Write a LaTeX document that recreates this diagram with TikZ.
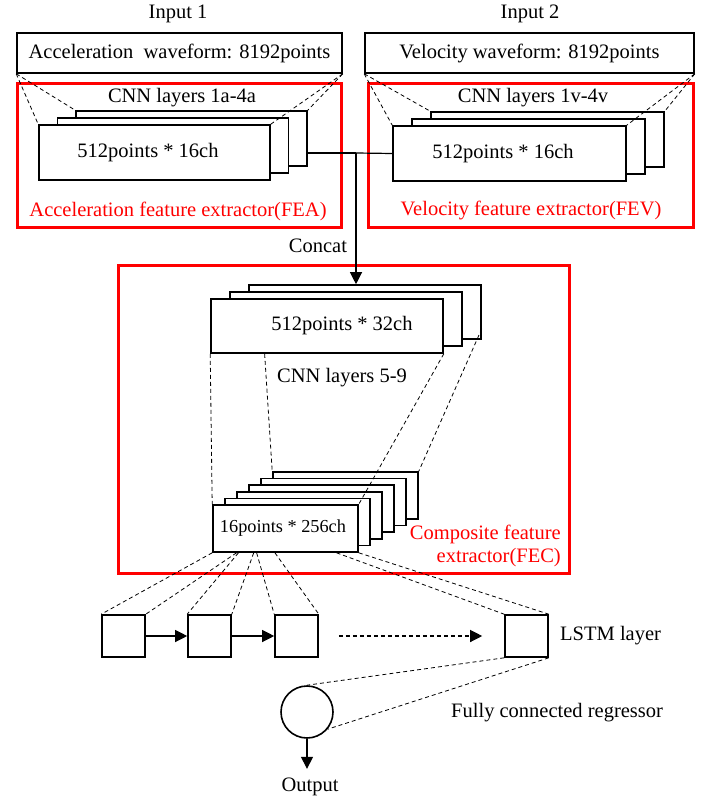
\documentclass[tikz,border=0pt]{standalone}
\usepackage{fontspec}
\setmainfont{Liberation Serif}
\usetikzlibrary{arrows.meta,calc}
\begin{document}
\begin{tikzpicture}[x=1pt,y=-1pt,
  every node/.style={font=\fontsize{20.5}{24}\selectfont, inner sep=0pt},
  blk/.style={draw, line width=1.6pt, fill=white, inner sep=0pt},
  redbox/.style={draw=red, line width=3pt, inner sep=0pt},
  dsh/.style={dash pattern=on 4pt off 3pt, line width=0.8pt},
  conn/.style={line width=1.2pt},
  arr/.style={line width=1.2pt, -{Triangle[length=12pt,width=12pt]}},
  redlbl/.style={text=red}]
\useasboundingbox (0,0) rectangle (704,799);

% red frames
\node[redbox, minimum width=324pt, minimum height=144pt] (fea) at (179,156) {};
\node[redbox, minimum width=325pt, minimum height=144pt] (fev) at (530.5,156) {};
\node[redbox, minimum width=451pt, minimum height=308pt] (fec) at (343.5,419) {};

% inputs
\node (in1) at (178,14) {Input 1};
\node (in2) at (530,14) {Input 2};
\node[blk, minimum width=325pt, minimum height=40pt] (acc) at (179.5,53) {Acceleration\ \ waveform: 8192points};
\node[blk, minimum width=329pt, minimum height=40pt] (vel) at (529.5,53) {Velocity waveform: 8192points};

% FEA stack
\node (cnna) at (182,98) {CNN layers 1a-4a};
\node[blk, minimum width=231pt, minimum height=55pt] (a3) at (191.5,138.5) {};
\node[blk, minimum width=231pt, minimum height=55pt] (a2) at (173,145.5) {};
\node[blk, minimum width=231pt, minimum height=55pt] (a1) at (154.5,152.5) {\hspace*{-13pt}512points * 16ch};
\node[redlbl] (feal) at (178,211) {Acceleration feature extractor(FEA)};

% FEV stack
\node (cnnv) at (533,98) {CNN layers 1v-4v};
\node[blk, minimum width=233pt, minimum height=55pt] (v3) at (547.5,139.5) {};
\node[blk, minimum width=233pt, minimum height=55pt] (v2) at (528.5,146.5) {};
\node[blk, minimum width=233pt, minimum height=55pt] (v1) at (509.5,153.5) {\hspace*{-13pt}512points * 16ch};
\node[redlbl] (fevl) at (531,210) {Velocity feature extractor(FEV)};

% concat
\node (concat) at (318,246) {Concat};

% FEC stacks
\node[blk, minimum width=232pt, minimum height=54pt] (b3) at (365,312) {};
\node[blk, minimum width=232pt, minimum height=54pt] (b2) at (346,319) {};
\node[blk, minimum width=232pt, minimum height=54pt] (b1) at (327,326) {\hspace*{30pt}512points * 32ch};
\node (cnn5) at (342,378) {CNN layers 5-9};

\foreach \i in {5,4,3,2,1} {
  \node[blk, minimum width=145pt, minimum height=47pt] (s\i) at ({285.5+12*\i},{528.5-6.6*\i}) {};
}
\node[blk, minimum width=145pt, minimum height=47pt, font=\fontsize{18.3}{22}\selectfont] (s0) at (285.5,528.5) {\hspace*{-5pt}16points * 256ch};
\node[redlbl, align=right, anchor=east, font=\fontsize{20.5}{23}\selectfont] (fecl) at (561,545.5) {Composite feature\\extractor(FEC)};

% LSTM
\node[blk, minimum width=43pt, minimum height=42pt] (l1) at (123.5,636) {};
\node[blk, minimum width=43pt, minimum height=42pt] (l2) at (209.5,636) {};
\node[blk, minimum width=43pt, minimum height=42pt] (l3) at (296.5,636) {};
\node[blk, minimum width=43pt, minimum height=42pt] (l4) at (526.5,636) {};
\node[anchor=west] (lstml) at (560,636) {LSTM layer};

% regressor
\node[blk, circle, minimum size=52pt] (c) at (307,712) {};
\node[anchor=west] (fcl) at (451,713) {Fully connected regressor};
\node (out) at (310,787) {Output};

% dashed projections: inputs to CNN stacks
\draw[dsh] (acc.south west) -- (a1.north west);
\draw[dsh] (acc.south west) -- (a3.north west);
\draw[dsh] (acc.south east) -- (a1.north east);
\draw[dsh] (acc.south east) -- (a3.north east);
\draw[dsh] (vel.south west) -- (v1.north west);
\draw[dsh] (vel.south west) -- (v3.north west);
\draw[dsh] (vel.south east) -- (v1.north east);
\draw[dsh] (vel.south east) -- (v3.north east);

% concat connectors
\coordinate (jn) at (356,153);
\draw[conn] (a3.east |- jn) -- (jn);
\draw[conn] (v1.west) -- (jn);
\draw[arr] (jn) -- (jn |- b3.north);

% CNN 5-9 projections
\draw[dsh] (b1.south west) -- (s0.north west);
\draw[dsh] ($(b1.south west)!0.233!(b1.south east)$) -- (s5.north west);
\draw[dsh] (b1.south east) -- (s0.north east);
\draw[dsh] ($(b3.north east)!0.8!(b3.south east)$) -- (s5.north east);

% to LSTM
\draw[dsh] (s0.south west) -- (l1.north west);
\draw[dsh] ($(s0.south west)!0.166!(s0.south east)$) -- (l1.north east);
\draw[dsh] ($(s0.south west)!0.179!(s0.south east)$) -- (l2.north west);
\draw[dsh] ($(s0.south west)!0.283!(s0.south east)$) -- (l2.north east);
\draw[dsh] ($(s0.south west)!0.303!(s0.south east)$) -- (l3.north west);
\draw[dsh] ($(s0.south west)!0.428!(s0.south east)$) -- (l3.north east);
\draw[dsh] ($(s0.south west)!0.848!(s0.south east)$) -- (l4.north west);
\draw[dsh] (s0.south east) -- (l4.north east);

% LSTM arrows
\draw[arr] (l1.east) -- (l2.west);
\draw[arr] (l2.east) -- (l3.west);
\draw[arr, dsh, line width=1.2pt] ([xshift=20pt]l3.east) -- ([xshift=-22pt]l4.west);

% to regressor
\draw[dsh] (l4.south west) -- (c.north);
\draw[dsh] (l4.south east) -- (c.-40);
\draw[arr, shorten >=9pt] (c.south) -- (c.south |- out.north);
\end{tikzpicture}
\end{document}
